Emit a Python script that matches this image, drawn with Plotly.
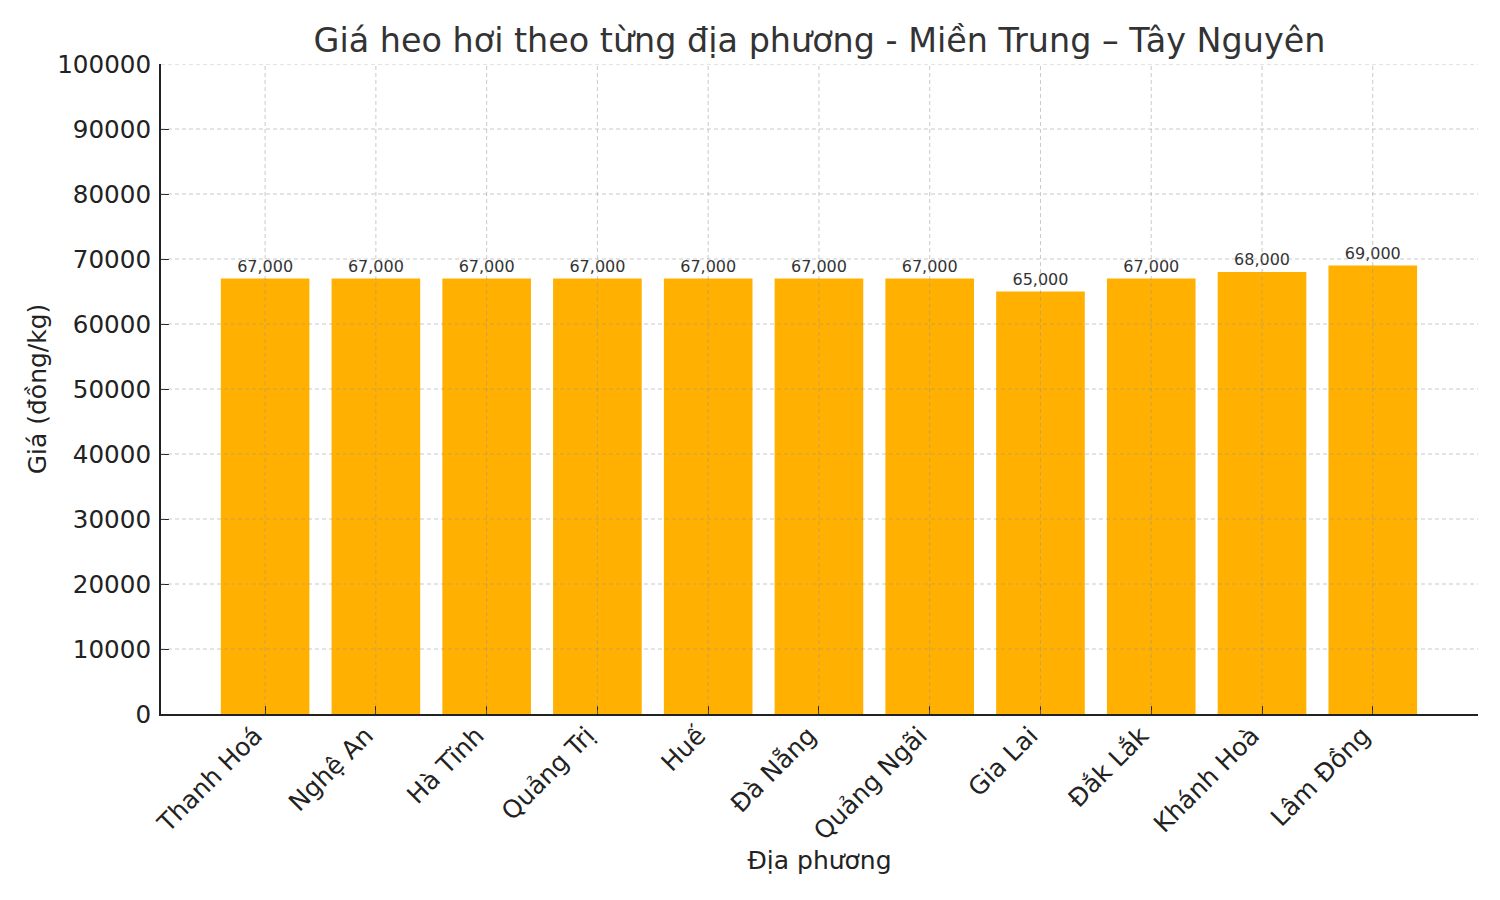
import plotly.graph_objects as go

# data
provinces = ["Thanh Hoá", "Nghệ An", "Hà Tĩnh", "Quảng Trị", "Huế", "Đà Nẵng",
             "Quảng Ngãi", "Gia Lai", "Đắk Lắk", "Khánh Hoà", "Lâm Đồng"]
prices = [67000, 67000, 67000, 67000, 67000, 67000, 67000, 65000, 67000, 68000, 69000]
y_ticks = [0, 10000, 20000, 30000, 40000, 50000, 60000, 70000, 80000, 90000, 100000]

font = "DejaVu Sans"
grid_color = "rgba(150,150,150,0.5)"

fig = go.Figure(
    go.Bar(
        x=provinces,
        y=prices,
        marker_color="#FFB000",
        marker_line_width=0,
        width=0.8,
        text=[f"{p:,}" for p in prices],
        textposition="outside",
        textfont=dict(family=font, size=16, color="#333333"),
        cliponaxis=False,
    )
)

# grid drawn on top of the bars (like the original)
shapes = []
for t in y_ticks[1:]:
    shapes.append(dict(type="line", xref="paper", yref="y", x0=0, x1=1, y0=t, y1=t,
                       line=dict(color=grid_color, width=1, dash="4px,3px"), layer="above"))
for p in provinces:
    shapes.append(dict(type="line", xref="x", yref="paper", x0=p, x1=p, y0=0, y1=1,
                       line=dict(color=grid_color, width=1, dash="4px,3px"), layer="above"))

fig.update_layout(
    width=1500,
    height=900,
    plot_bgcolor="white",
    paper_bgcolor="white",
    margin=dict(l=153, r=30, t=56, b=194),
    showlegend=False,
    shapes=shapes,
    title=dict(text="Giá heo hơi theo từng địa phương - Miền Trung – Tây Nguyên",
               x=0.541, xanchor="center", y=0.964, yanchor="middle",
               font=dict(family=font, size=33.4, color="#333333")),
    font=dict(family=font, color="#222222"),
    bargap=0.2,
)

fig.update_xaxes(
    range=[-0.94, 10.95],
    tickangle=-45,
    ticks="inside", ticklen=8, tickcolor="#222222",
    ticklabelshift=-10, ticklabelstandoff=-5,
    tickfont=dict(family=font, size=25, color="#222222"),
    showline=True, linecolor="#222222", linewidth=2,
    showgrid=False,
    title=dict(text="Địa phương", font=dict(family=font, size=25, color="#222222"), standoff=7),
)
fig.update_yaxes(
    range=[0, 100000],
    tickvals=y_ticks,
    tickformat="d",
    ticks="inside", ticklen=8, tickcolor="#222222",
    ticklabelstandoff=3,
    tickfont=dict(family=font, size=24.6, color="#222222"),
    showline=True, linecolor="#222222", linewidth=2,
    showgrid=False, zeroline=False,
    title=dict(text="Giá (đồng/kg)", font=dict(family=font, size=25, color="#222222"), standoff=3),
)

fig.write_html("out.html")
